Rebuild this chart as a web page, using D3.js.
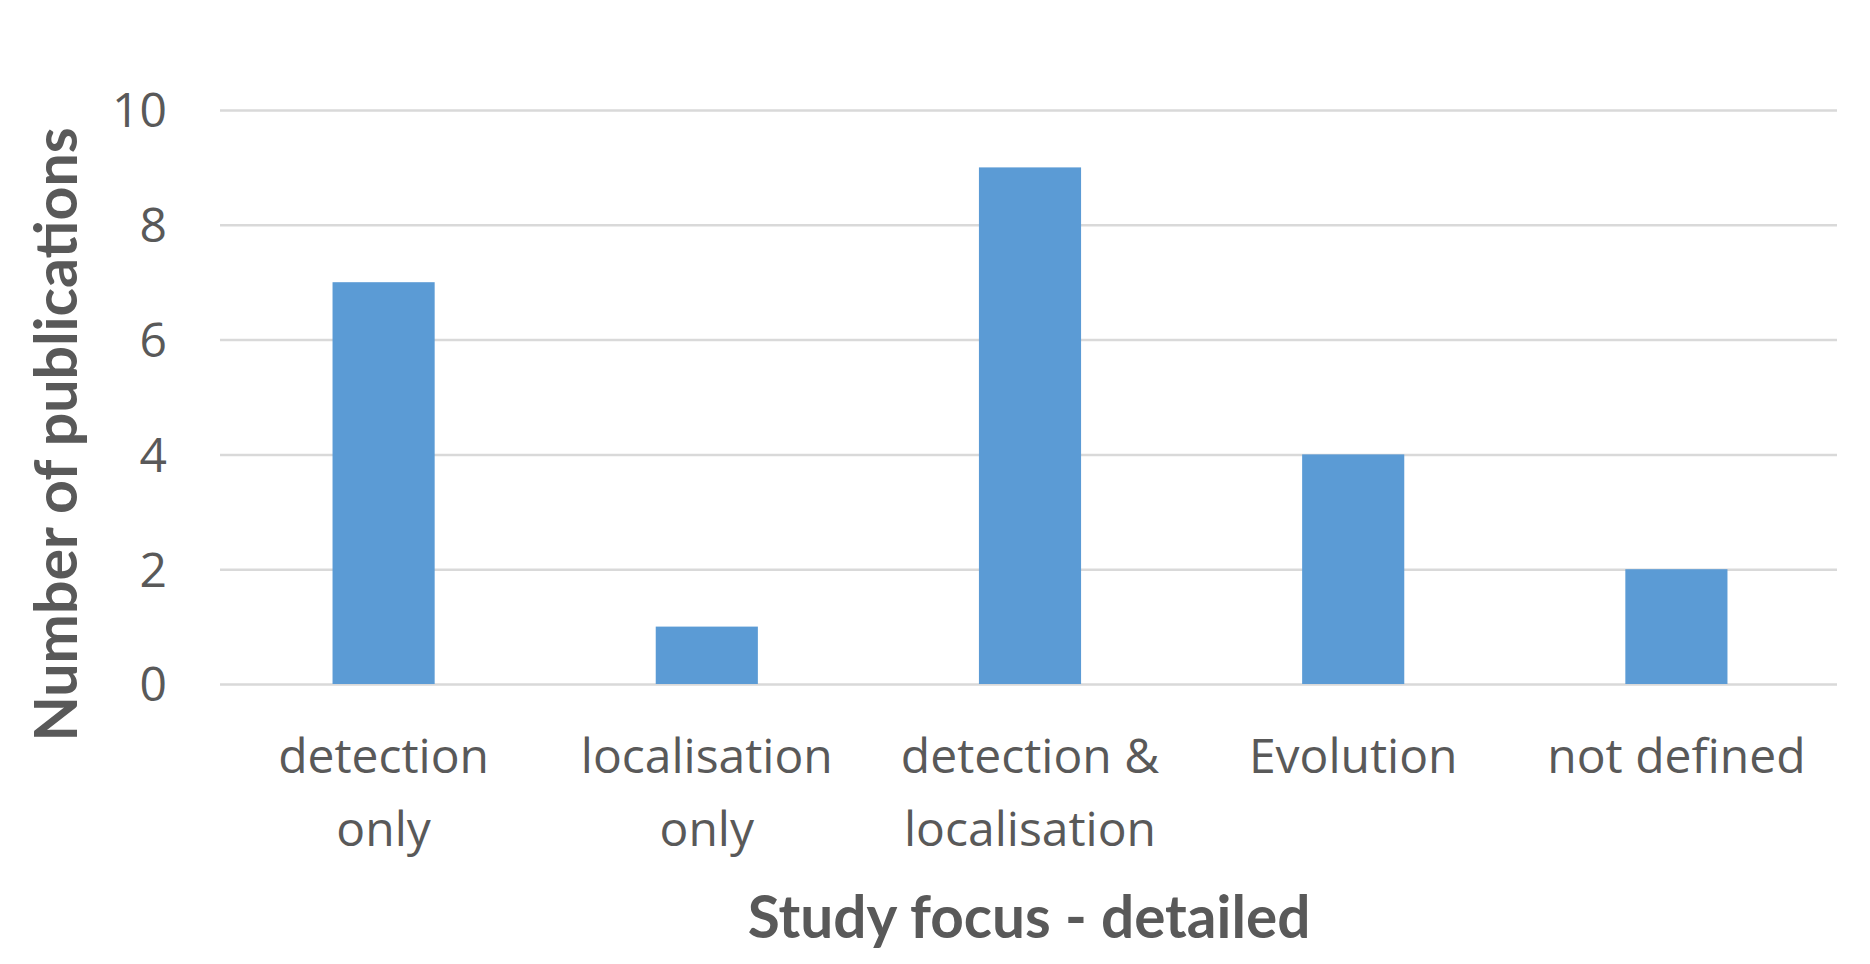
<!DOCTYPE html>
<html><head><meta charset="utf-8">
<script src="https://cdn.jsdelivr.net/npm/d3@7"></script>
<style>body{margin:0;background:#fff}</style>
</head><body>
<svg id="c" width="1870" height="964"></svg>
<script>
const categories = [["detection","only"],["localisation","only"],["detection &","localisation"],["Evolution"],["not defined"]];
const values = [7, 1, 9, 4, 2];
const yTicks = [0, 2, 4, 6, 8, 10];
const xTitle = "Study focus - detailed";
const yTitle = "Number of publications";

const svg = d3.select("#c");
const keys = categories.map(c => c.join(" "));
const x = d3.scaleBand().domain(keys).range([222, 1838]).paddingInner(0.684).paddingOuter(0.342);
const y = d3.scaleLinear().domain([0, 10]).range([684, 110]);
const tickFont = "'Open Sans', sans-serif";
const grey = "#595959";

// gridlines
const yAxis = d3.axisLeft(y).tickValues(yTicks).tickSize(-(1837-220)).tickPadding(53);
const gy = svg.append("g").attr("transform","translate(220,0)").call(yAxis);
gy.select(".domain").remove();
gy.selectAll(".tick line").attr("stroke","#d9d9d9").attr("stroke-width",2.5);
gy.selectAll(".tick text").attr("fill",grey).style("font-family",tickFont).style("font-size","48px").attr("dy","0.35em");

// bars
svg.append("g").selectAll("rect").data(values).join("rect")
  .attr("x",(d,i)=>x(keys[i])).attr("width",x.bandwidth())
  .attr("y",d=>y(d)).attr("height",d=>y(0)-y(d))
  .attr("fill","#5b9bd5");

// category labels
const xl = svg.append("g");
categories.forEach((c,i)=>{
  const t = xl.append("text").attr("text-anchor","middle").attr("fill",grey)
    .style("font-family",tickFont).style("font-size","48px");
  c.forEach((line,j)=>{
    t.append("tspan").attr("x", x(keys[i]) + x.bandwidth()/2).attr("y", 773 + j*73).text(line);
  });
});

// axis titles
svg.append("text").attr("x",1029).attr("y",938).attr("text-anchor","middle")
  .attr("fill",grey).style("font-family","Lato, sans-serif").style("font-weight","bold").style("font-size","58.5px").text(xTitle);
svg.append("text").attr("transform","translate(77,434.5) rotate(-90)").attr("text-anchor","middle")
  .attr("fill",grey).style("font-family","Lato, sans-serif").style("font-weight","bold").style("font-size","59px").text(yTitle);
</script>
</body></html>
